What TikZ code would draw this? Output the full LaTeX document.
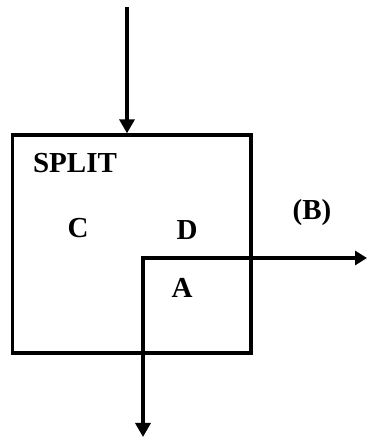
\documentclass[tikz,border=0pt]{standalone}
\usepackage{fontspec}
\setmainfont{Liberation Serif}
\usetikzlibrary{arrows.meta}

\begin{document}
\begin{tikzpicture}[
  x=1pt, y=1pt,
  line width=3.3pt,
  flow/.style={-{Triangle[length=14pt,width=15pt]}},
  label/.style={font=\fontsize{29}{32}\selectfont\bfseries, inner sep=0pt}
]
  % frame of the picture
  \useasboundingbox (0,0) rectangle (368,439);
  % the splitter and its regions
  \node [draw, line width=3.3pt, minimum width=238.5pt, minimum height=218pt,
         inner sep=0pt] (split) at (131.75,195) {};
  \node [label] (splitname) at (75,276) {SPLIT};
  \node [label] (regC) at (78,211) {C};
  \node [label] (regD) at (187,209) {D};
  \node [label] (regA) at (182,151) {A};
  \node [label] (outBname) at (312,226) {(B)};
  % streams
  \coordinate (feed) at (127,432);
  \coordinate (corner) at (143,181);
  \coordinate (outB) at (367,181);
  \coordinate (outA) at (143,2);
  \draw [flow] (feed) -- (feed |- split.north);
  \draw [{Triangle[length=14pt,width=15pt]}-{Triangle[length=12pt,width=14pt]}, line join=miter]
    (outA) -- (corner) -- (outB);
\end{tikzpicture}
\end{document}
